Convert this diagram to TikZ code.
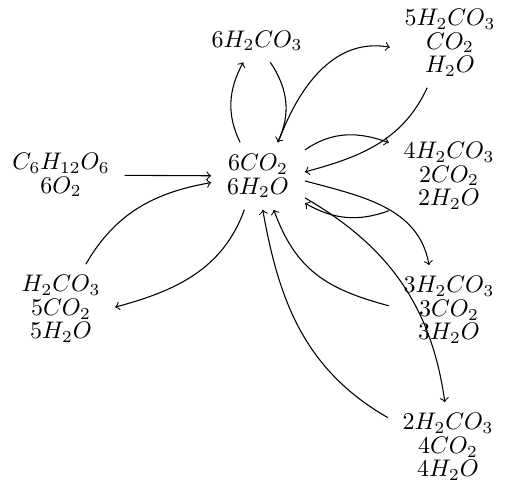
\documentclass[tikz,border=0pt]{standalone}
\begin{document}
\begin{tikzpicture}[x=0.4167pt,y=0.4167pt,
  every node/.style={align=center, font=\fontsize{10pt}{9.8pt}\selectfont},
  chem/.style={inner xsep=6pt, inner ysep=4.5pt},
  cen/.style={inner xsep=6.5pt, inner ysep=4.8pt},
  arr/.style={->, line width=0.45pt}]
\useasboundingbox (0,0) rectangle (513,503);
\node[chem] (t)  at (257,462) {$6H_2CO_3$};
\node[chem] (n5) at (450,460) {$5H_2CO_3$\\$CO_2$\\$H_2O$};
\node[chem] (l)  at (61,328)  {$C_6H_{12}O_6$\\$6O_2$};
\node[cen]  (c)  at (258,327) {$6CO_2$\\$6H_2O$};
\node[chem] (n4) at (449,327) {$4H_2CO_3$\\$2CO_2$\\$2H_2O$};
\node[chem] (bl) at (61,194)  {$H_2CO_3$\\$5CO_2$\\$5H_2O$};
\node[chem] (n3) at (449,193) {$3H_2CO_3$\\$3CO_2$\\$3H_2O$};
\node[chem] (n2) at (448,56)  {$2H_2CO_3$\\$4CO_2$\\$4H_2O$};
\draw[arr] (l) -- (c);
\draw[arr] (bl.61) to[out=60,in=190] (c.188);
\draw[arr] (c.248) to[out=250,in=15] (bl.2);
\draw[arr] (c.118) to[out=116,in=242] (t.237);
\draw[arr] (t.302) to[out=304,in=64] (c.60);
\draw[arr] (c.59) to[out=70,in=170] (n5.184);
\draw[arr] (n5.243) to[out=245,in=15] (c.5);
\draw[arr] (c.29) to[out=35,in=160] (n4.151);
\draw[arr] (n4.210) to[out=200,in=330] (c.330);
\draw[arr] (c.354) to[out=345,in=100] (n3.114);
\draw[arr] (n3.176) to[out=165,in=290,looseness=1.1] (c.295);
\draw[arr] (c.335) to[out=330,in=98] (n2.94);
\draw[arr] (n2.154) to[out=150,in=280] (c.278);
\end{tikzpicture}
\end{document}
